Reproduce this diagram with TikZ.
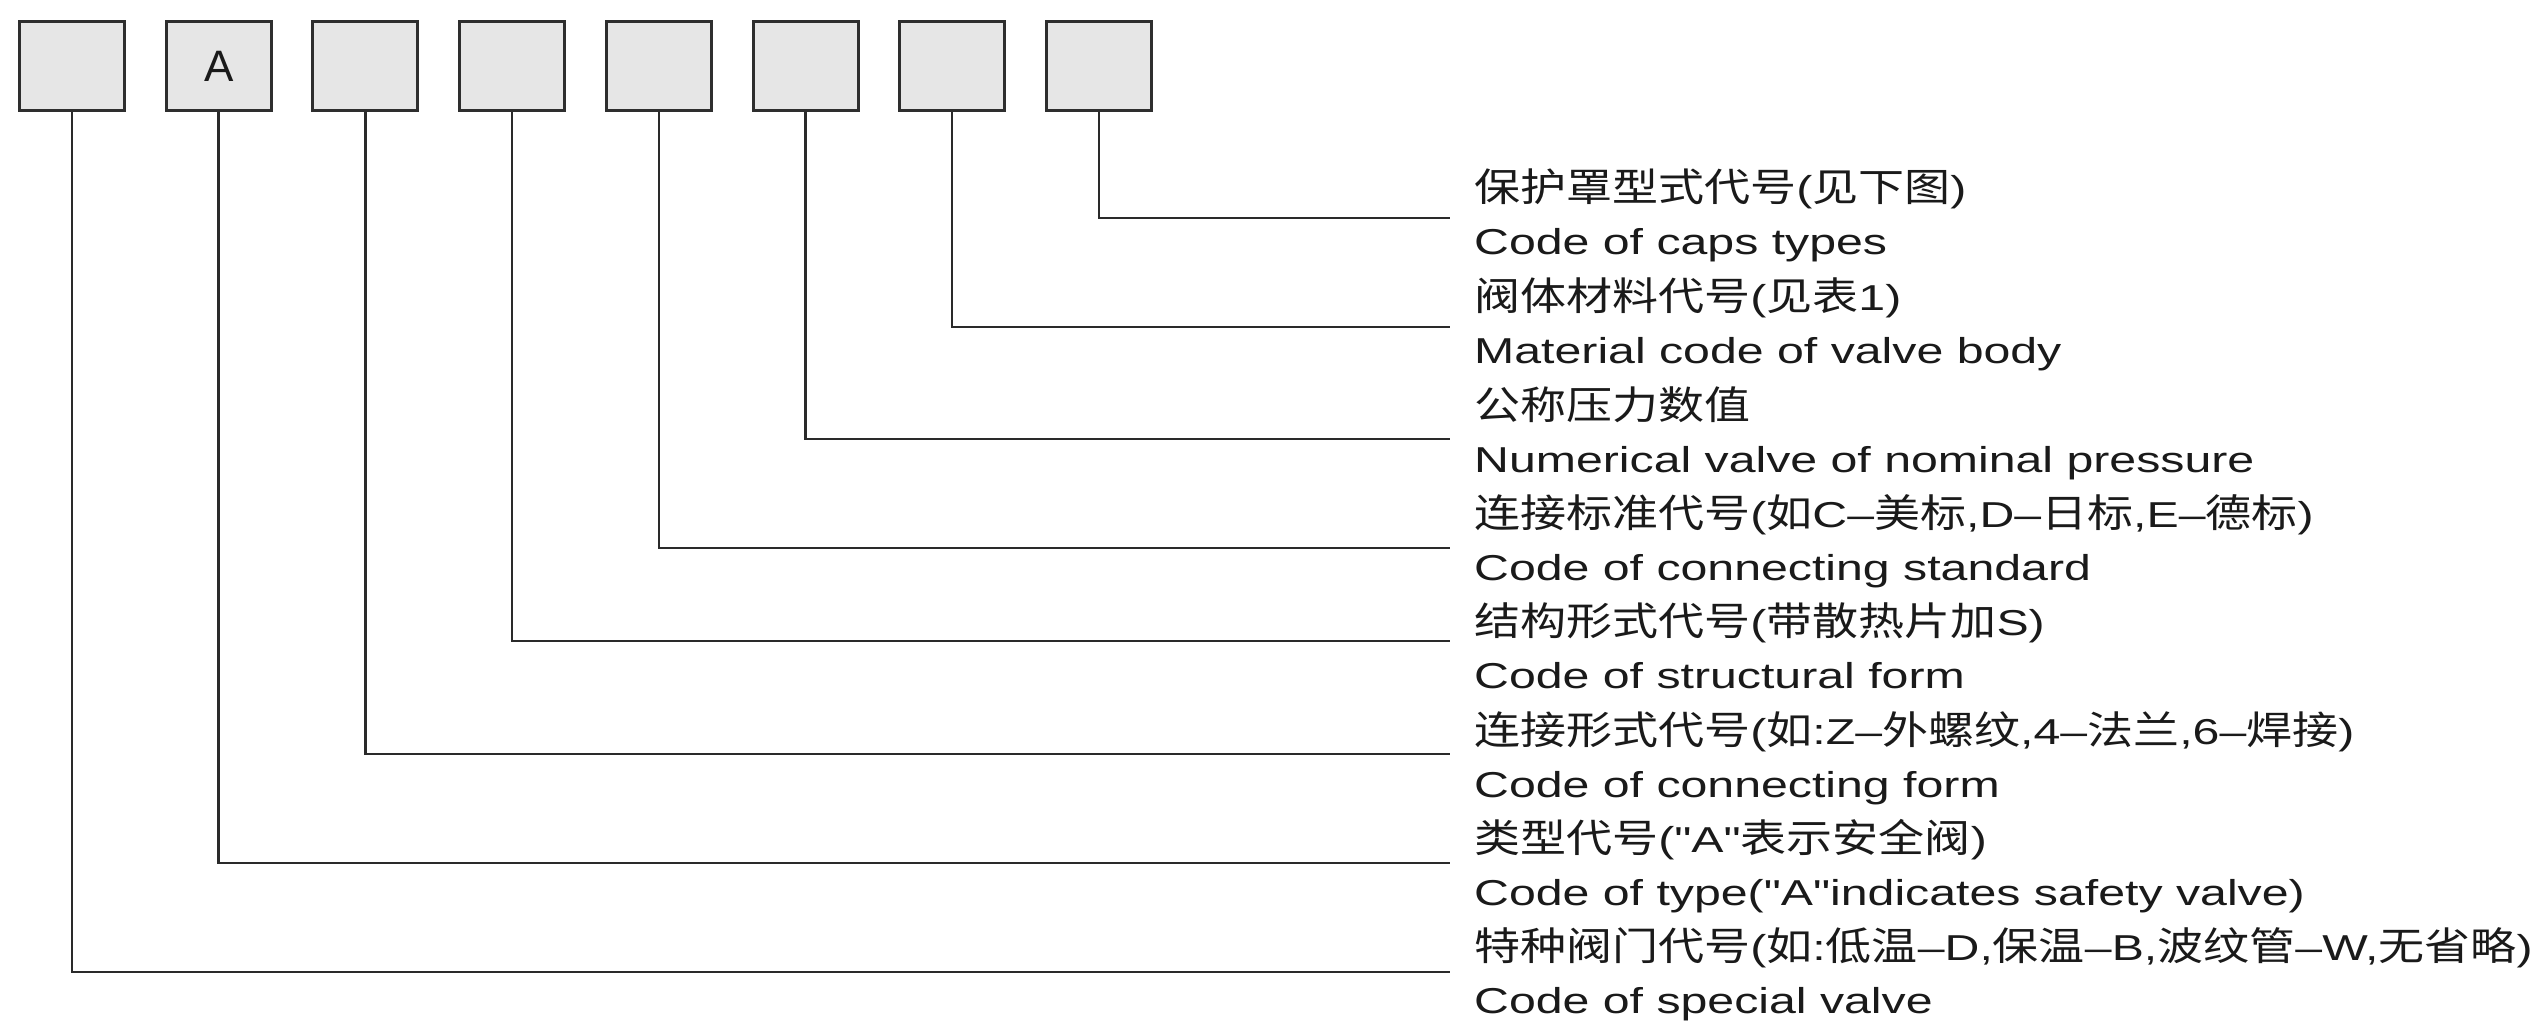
\documentclass[tikz,border=0pt]{standalone}
\usepackage{fontspec}
\setmainfont{Liberation Sans}
\newfontfamily\latinwide[FakeStretch=1.34]{Liberation Sans}
\newfontfamily\cjkwide[FakeStretch=1.18]{Noto Sans CJK SC}
\newcommand{\zh}[1]{{\fontsize{39pt}{42pt}\cjkwide #1}}
\definecolor{boxfill}{HTML}{E6E6E6}
\definecolor{boxline}{HTML}{2E2E2E}
\definecolor{lnc}{HTML}{2A2A2A}
\definecolor{txt}{HTML}{1A1A1A}
\begin{document}
\begin{tikzpicture}[x=1pt,y=-1pt,
  box/.style={draw=boxline, fill=boxfill, line width=3pt, minimum width=105pt,
    minimum height=89pt, inner sep=0pt, anchor=north west, text=txt,
    font=\fontsize{44pt}{44pt}\selectfont},
  conn/.style={draw=lnc, line width=2.5pt},
  label/.style={anchor=base west, inner sep=0pt, text=txt,
    font=\fontsize{36pt}{40pt}\latinwide}
]
\useasboundingbox[fill=white] (0,0) rectangle (2540,1024);

% boxes
\node[box] (b1) at (18,20) {};
\node[box] (b2) at (164.7,20) {A};
\node[box] (b3) at (311.4,20) {};
\node[box] (b4) at (458.1,20) {};
\node[box] (b5) at (604.8,20) {};
\node[box] (b6) at (751.5,20) {};
\node[box] (b7) at (898.2,20) {};
\node[box] (b8) at (1044.9,20) {};

% connector ends
\coordinate (e8) at (1450,218);
\coordinate (e7) at (1450,327);
\coordinate (e6) at (1450,439);
\coordinate (e5) at (1450,548);
\coordinate (e4) at (1450,641);
\coordinate (e3) at (1450,754);
\coordinate (e2) at (1450,863);
\coordinate (e1) at (1450,972);

\foreach \i in {1,...,8} {
  \draw[conn] (b\i.south) |- (e\i);
}

% labels
\node[label] (c8) at (1474,202) {\zh{保护罩型式代号}(\zh{见下图})};
\node[label] (t8) at (1474,255) {Code of caps types};
\node[label] (c7) at (1474,310) {\zh{阀体材料代号}(\zh{见表}1)};
\node[label] (t7) at (1474,363) {Material code of valve body};
\node[label] (c6) at (1474,419) {\zh{公称压力数值}};
\node[label] (t6) at (1474,472) {Numerical valve of nominal pressure};
\node[label] (c5) at (1474,527) {\zh{连接标准代号}(\zh{如}C–\zh{美标},D–\zh{日标},E–\zh{德标})};
\node[label] (t5) at (1474,580) {Code of connecting standard};
\node[label] (c4) at (1474,635) {\zh{结构形式代号}(\zh{带散热片加}S)};
\node[label] (t4) at (1474,688) {Code of structural form};
\node[label] (c3) at (1474,744) {\zh{连接形式代号}(\zh{如}:Z–\zh{外螺纹},4–\zh{法兰},6–\zh{焊接})};
\node[label] (t3) at (1474,797) {Code of connecting form};
\node[label] (c2) at (1474,852) {\zh{类型代号}("A"\zh{表示安全阀})};
\node[label] (t2) at (1474,905) {Code of type("A"indicates safety valve)};
\node[label] (c1) at (1474,960) {\zh{特种阀门代号}(\zh{如}:\zh{低温}–D,\zh{保温}–B,\zh{波纹管}–W,\zh{无省略})};
\node[label] (t1) at (1474,1013) {Code of special valve};
\end{tikzpicture}
\end{document}
